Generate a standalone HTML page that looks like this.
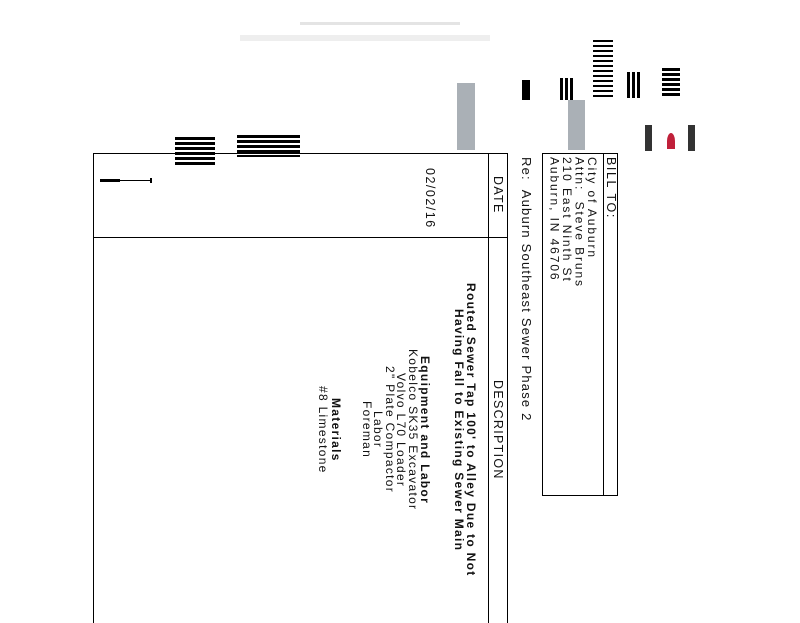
<!DOCTYPE html>
<html><head><meta charset="utf-8"><style>
body{margin:0;width:800px;height:618px;background:#fff;position:relative;overflow:hidden;font-family:"Liberation Sans",sans-serif;color:#111}
.v{position:absolute;writing-mode:vertical-rl;white-space:nowrap;font-size:12px;line-height:13px;letter-spacing:1.3px}
.c{top:238px;height:384px;text-align:center}
.b{font-weight:bold}
.r{position:absolute;background:#000}
</style></head><body>
<div class="r" style="left:300px;top:22px;width:160px;height:3px;background:#e4e4e4"></div>
<div class="r" style="left:240px;top:35px;width:250px;height:6px;background:#eee"></div>
<div class="r" style="left:175px;top:137px;width:40px;height:30px;background:repeating-linear-gradient(#000 0 3px,#fff 3px 5px)"></div>
<div class="r" style="left:237px;top:135px;width:63px;height:22px;background:repeating-linear-gradient(#000 0 3px,#fff 3px 5px)"></div>
<div class="r" style="left:522px;top:80px;width:8px;height:20px"></div>
<div class="r" style="left:560px;top:78px;width:14px;height:22px;background:repeating-linear-gradient(90deg,#000 0 3px,#fff 3px 5px)"></div>
<div class="r" style="left:593px;top:40px;width:20px;height:58px;background:repeating-linear-gradient(#000 0 2px,#fff 2px 5px)"></div>
<div class="r" style="left:627px;top:72px;width:15px;height:26px;background:repeating-linear-gradient(90deg,#000 0 3px,#fff 3px 5px)"></div>
<div class="r" style="left:662px;top:68px;width:18px;height:30px;background:repeating-linear-gradient(#000 0 3px,#fff 3px 5px)"></div>
<div class="r" style="left:457px;top:83px;width:18px;height:67px;background:#aab0b6"></div>
<div class="r" style="left:568px;top:100px;width:17px;height:50px;background:#aab0b6"></div>
<div class="r" style="left:645px;top:125px;width:7px;height:26px;background:#333"></div>
<div class="r" style="left:688px;top:125px;width:7px;height:26px;background:#333"></div>
<div class="r" style="left:667px;top:133px;width:8px;height:16px;background:#c0203a;border-radius:50% 50% 0 0"></div>
<div class="r" style="left:100px;top:179px;width:20px;height:3px"></div>
<div class="r" style="left:120px;top:180px;width:32px;height:1px"></div>
<div class="r" style="left:150px;top:178px;width:2px;height:5px"></div>

<div style="position:absolute;left:542px;top:153px;width:74px;height:341px;border:1px solid #000"></div>
<div class="r" style="left:603px;top:153px;width:1px;height:343px"></div>
<div class="v" style="left:604px;top:157px;font-size:12.5px;letter-spacing:1.6px">BILL TO:</div>
<div class="v" style="left:548px;top:157px;line-height:12.5px;font-size:12px;letter-spacing:1.9px">City of Auburn<br>Attn:&nbsp; Steve Bruns<br>210 East Ninth St<br>Auburn, IN 46706</div>
<div class="v" style="left:520px;top:157px;font-size:13px;letter-spacing:1.2px">Re:&nbsp; Auburn Southeast Sewer Phase 2</div>

<div class="r" style="left:93px;top:153px;width:415px;height:1px"></div>
<div class="r" style="left:93px;top:153px;width:1px;height:470px"></div>
<div class="r" style="left:507px;top:153px;width:1px;height:470px"></div>
<div class="r" style="left:488px;top:153px;width:1px;height:470px"></div>
<div class="r" style="left:93px;top:237px;width:415px;height:1px"></div>
<div class="v" style="left:490px;top:153px;width:16px;height:84px;text-align:center;font-size:12.5px;line-height:16px">DATE</div>
<div class="v" style="left:490px;top:238px;width:16px;height:384px;text-align:center;font-size:12.5px;line-height:16px">DESCRIPTION</div>
<div class="v" style="left:423px;top:168px;font-size:12.5px;letter-spacing:1.5px">02/02/16</div>

<div class="v c b" style="left:464px">Routed Sewer Tap 100' to Alley Due to Not</div>
<div class="v c b" style="left:452px">Having Fall to Existing Sewer Main</div>
<div class="v c b" style="left:418px">Equipment and Labor</div>
<div class="v c" style="left:406px">Kobelco SK35 Excavator</div>
<div class="v c" style="left:394px">Volvo L70 Loader</div>
<div class="v c" style="left:383px">2" Plate Compactor</div>
<div class="v c" style="left:371px">Labor</div>
<div class="v c" style="left:360px">Foreman</div>
<div class="v c b" style="left:329px">Materials</div>
<div class="v c" style="left:316px">#8 Limestone</div>
</body></html>
